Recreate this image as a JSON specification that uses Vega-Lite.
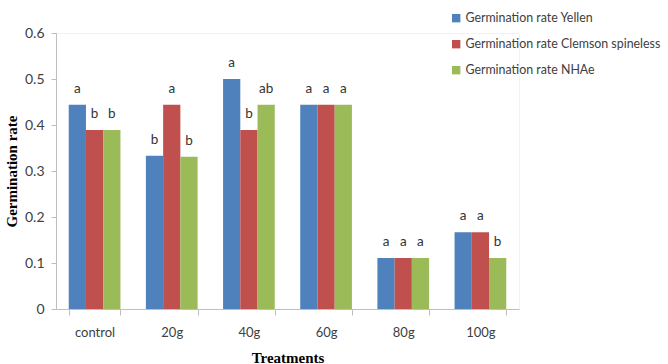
{
  "$schema": "https://vega.github.io/schema/vega-lite/v6.json",
  "autosize": {"type": "none"},
  "width": 463,
  "height": 276,
  "padding": {"left": 56, "top": 33, "right": 149, "bottom": 55},
  "background": "white",
  "config": {
    "view": {"stroke": "#f2f2f2", "strokeWidth": 1},
    "font": "Lato"
  },
  "data": {
    "values": [
      {"treatment": "control", "series": "Germination rate Yellen", "rate": 0.444, "letter": "a"},
      {"treatment": "control", "series": "Germination rate Clemson spineless", "rate": 0.389, "letter": "b"},
      {"treatment": "control", "series": "Germination rate NHAe", "rate": 0.389, "letter": "b"},
      {"treatment": "20g", "series": "Germination rate Yellen", "rate": 0.333, "letter": "b"},
      {"treatment": "20g", "series": "Germination rate Clemson spineless", "rate": 0.444, "letter": "a"},
      {"treatment": "20g", "series": "Germination rate NHAe", "rate": 0.331, "letter": "b"},
      {"treatment": "40g", "series": "Germination rate Yellen", "rate": 0.5, "letter": "a"},
      {"treatment": "40g", "series": "Germination rate Clemson spineless", "rate": 0.389, "letter": "b"},
      {"treatment": "40g", "series": "Germination rate NHAe", "rate": 0.444, "letter": "ab"},
      {"treatment": "60g", "series": "Germination rate Yellen", "rate": 0.444, "letter": "a"},
      {"treatment": "60g", "series": "Germination rate Clemson spineless", "rate": 0.444, "letter": "a"},
      {"treatment": "60g", "series": "Germination rate NHAe", "rate": 0.444, "letter": "a"},
      {"treatment": "80g", "series": "Germination rate Yellen", "rate": 0.111, "letter": "a"},
      {"treatment": "80g", "series": "Germination rate Clemson spineless", "rate": 0.111, "letter": "a"},
      {"treatment": "80g", "series": "Germination rate NHAe", "rate": 0.111, "letter": "a"},
      {"treatment": "100g", "series": "Germination rate Yellen", "rate": 0.167, "letter": "a"},
      {"treatment": "100g", "series": "Germination rate Clemson spineless", "rate": 0.167, "letter": "a"},
      {"treatment": "100g", "series": "Germination rate NHAe", "rate": 0.111, "letter": "b"}
    ]
  },
  "encoding": {
    "x": {
      "field": "treatment",
      "type": "nominal",
      "sort": ["control", "20g", "40g", "60g", "80g", "100g"],
      "scale": {"paddingInner": 0.33, "paddingOuter": 0.165},
      "axis": {
        "title": "Treatments",
        "titleFont": "Liberation Serif",
        "titleFontWeight": "bold",
        "titleFontSize": 15,
        "titleColor": "#000000",
        "titlePadding": 11,
        "labelAngle": 0,
        "labelFontSize": 13,
        "labelColor": "#404040",
        "labelPadding": 11,
        "tickBand": "extent",
        "tickSize": 6,
        "tickColor": "#bfbfbf",
        "domainColor": "#bfbfbf",
        "grid": false
      }
    },
    "xOffset": {
      "field": "series",
      "type": "nominal",
      "sort": ["Germination rate Yellen", "Germination rate Clemson spineless", "Germination rate NHAe"],
      "scale": {"paddingInner": 0, "paddingOuter": 0}
    },
    "y": {
      "field": "rate",
      "type": "quantitative",
      "scale": {"domain": [0, 0.6], "nice": false},
      "axis": {
        "title": "Germination rate",
        "titleFont": "Liberation Serif",
        "titleFontWeight": "bold",
        "titleFontSize": 15,
        "titleColor": "#000000",
        "titlePadding": 5,
        "values": [0, 0.1, 0.2, 0.3, 0.4, 0.5, 0.6],
        "format": ".1~f",
        "labelFontSize": 14,
        "labelColor": "#404040",
        "labelPadding": 7,
        "tickSize": 5,
        "tickColor": "#bfbfbf",
        "domainColor": "#bfbfbf",
        "grid": false
      }
    }
  },
  "layer": [
    {
      "mark": {"type": "bar"},
      "encoding": {
        "color": {
          "field": "series",
          "type": "nominal",
          "scale": {
            "domain": ["Germination rate Yellen", "Germination rate Clemson spineless", "Germination rate NHAe"],
            "range": ["#4F81BD", "#C0504D", "#9BBB59"]
          },
          "legend": {
            "title": null,
            "orient": "none",
            "legendX": 394,
            "legendY": -21,
            "symbolType": "square",
            "symbolSize": 70,
            "symbolStrokeWidth": 0,
            "labelFontSize": 12.4,
            "labelColor": "#404040",
            "labelLimit": 300,
            "labelOffset": 3,
            "rowPadding": 13
          }
        }
      }
    },
    {
      "mark": {"type": "text", "baseline": "middle", "dy": -16, "fontSize": 13.5, "color": "#333333"},
      "encoding": {
        "text": {"field": "letter", "type": "nominal"}
      }
    }
  ]
}
